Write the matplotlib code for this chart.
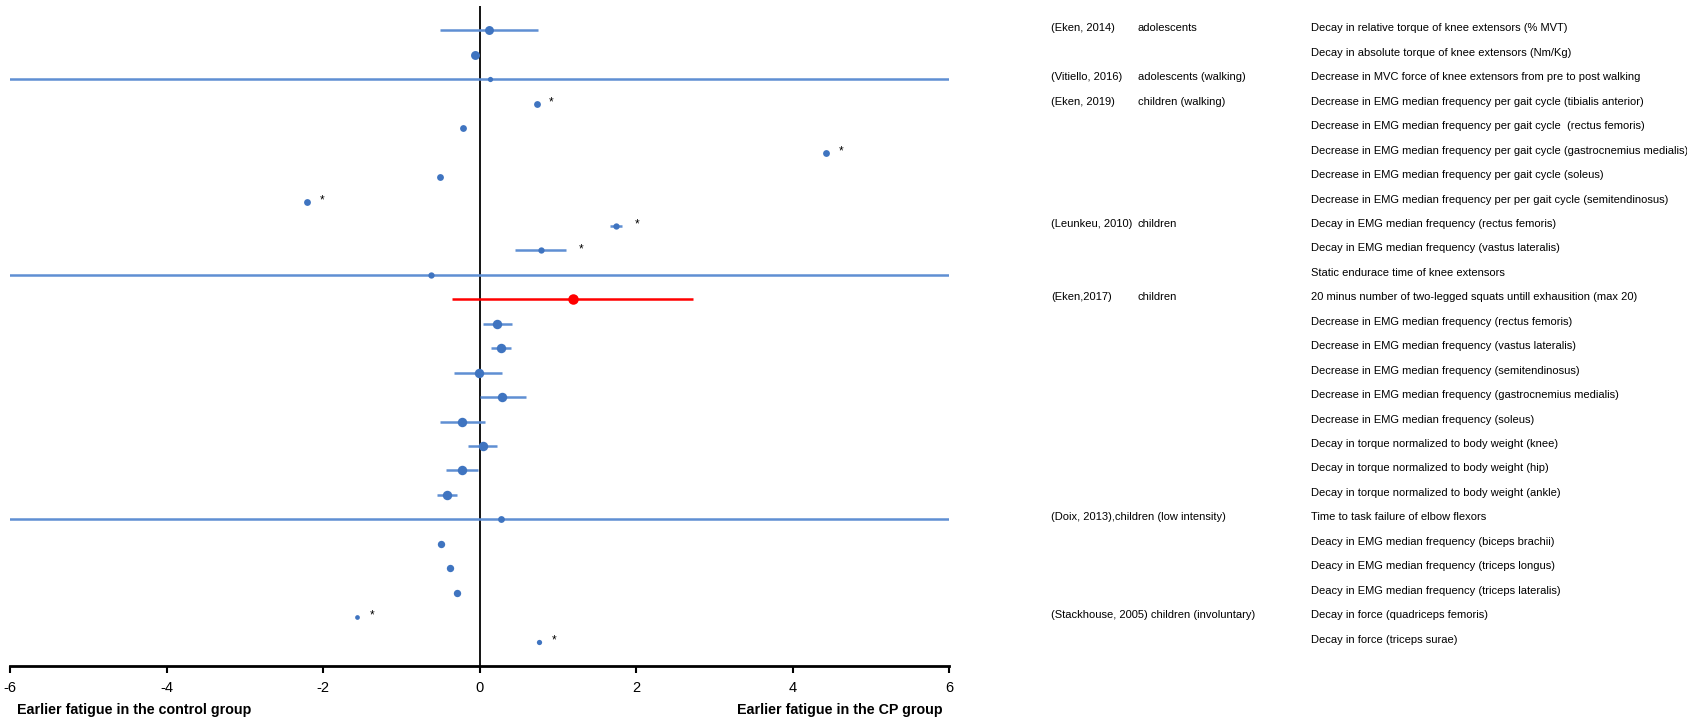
import numpy as np
import matplotlib
matplotlib.use("Agg")
import matplotlib.pyplot as plt
import matplotlib.transforms as mtransforms

plt.rcParams['font.family'] = ['Liberation Sans', 'DejaVu Sans']

# ---------------- data ----------------
studies = ["(Eken, 2014)", "", "(Vitiello, 2016)", "(Eken, 2019)", "", "", "", "",
           "(Leunkeu, 2010)", "", "", "(Eken,2017)", "", "", "", "", "", "", "", "",
           "(Doix, 2013),children (low intensity)", "", "", "",
           "(Stackhouse, 2005) children (involuntary)", ""]
populations = ["adolescents", "", "adolescents (walking)", "children (walking)", "", "", "", "",
               "children", "", "", "children", "", "", "", "", "", "", "", "",
               "", "", "", "", "", ""]
outcomes = [
    "Decay in relative torque of knee extensors (% MVT)",
    "Decay in absolute torque of knee extensors (Nm/Kg)",
    "Decrease in MVC force of knee extensors from pre to post walking",
    "Decrease in EMG median frequency per gait cycle (tibialis anterior)",
    "Decrease in EMG median frequency per gait cycle  (rectus femoris)",
    "Decrease in EMG median frequency per gait cycle (gastrocnemius medialis)",
    "Decrease in EMG median frequency per gait cycle (soleus)",
    "Decrease in EMG median frequency per per gait cycle (semitendinosus)",
    "Decay in EMG median frequency (rectus femoris)",
    "Decay in EMG median frequency (vastus lateralis)",
    "Static endurace time of knee extensors",
    "20 minus number of two-legged squats untill exhausition (max 20)",
    "Decrease in EMG median frequency (rectus femoris)",
    "Decrease in EMG median frequency (vastus lateralis)",
    "Decrease in EMG median frequency (semitendinosus)",
    "Decrease in EMG median frequency (gastrocnemius medialis)",
    "Decrease in EMG median frequency (soleus)",
    "Decay in torque normalized to body weight (knee)",
    "Decay in torque normalized to body weight (hip)",
    "Decay in torque normalized to body weight (ankle)",
    "Time to task failure of elbow flexors",
    "Deacy in EMG median frequency (biceps brachii)",
    "Deacy in EMG median frequency (triceps longus)",
    "Deacy in EMG median frequency (triceps lateralis)",
    "Decay in force (quadriceps femoris)",
    "Decay in force (triceps surae)",
]
effect = [0.12, -0.06, 0.13, 0.73, -0.21, 4.43, -0.51, -2.20, 1.75, 0.79, -0.62, 1.20,
          0.23, 0.28, -0.01, 0.29, -0.22, 0.04, -0.23, -0.42, 0.27, -0.49, -0.38, -0.29,
          -1.56, 0.76]
nan = np.nan
ci_low = [-0.51, nan, -8.0, nan, nan, nan, nan, nan, 1.67, 0.46, -8.0, -0.35,
          0.04, 0.15, -0.32, 0.00, -0.51, -0.15, -0.43, -0.54, -8.0, nan, nan, nan,
          nan, nan]
ci_high = [0.75, nan, 8.0, nan, nan, nan, nan, nan, 1.82, 1.11, 8.0, 2.73,
           0.42, 0.40, 0.29, 0.59, 0.07, 0.22, -0.02, -0.29, 8.0, nan, nan, nan,
           nan, nan]
weight = [8.5, 8.5, 5, 6.5, 6.5, 6.5, 6.5, 6.5, 6, 6, 6, 10,
          9, 9, 9, 9, 9, 9, 9, 9, 6.5, 7, 7, 7, 4.5, 5]
significant = [False, False, False, True, False, True, False, True, True, True, False, False,
               False, False, False, False, False, False, False, False, False, False, False, False,
               True, True]
highlight = [False] * 11 + [True] + [False] * 14
xticks = [-6, -4, -2, 0, 2, 4, 6]
xlabel_left = "Earlier fatigue in the control group"
xlabel_right = "Earlier fatigue in the CP group"

# ---------------- plot ----------------
W, H, DPI = 1687, 720, 100
fig = plt.figure(figsize=(W / DPI, H / DPI), dpi=DPI)
ax = fig.add_axes([10 / W, 1 - 666 / H, (949 - 10) / W, (666 - 6) / H])

n = len(effect)
rows = np.arange(1, n + 1)

blue_m = "#3F74C0"
blue_l = "#5F8FD3"
red = "#FF0000"

for i in range(n):
    col_l = red if highlight[i] else blue_l
    col_m = red if highlight[i] else blue_m
    if not np.isnan(ci_low[i]):
        ax.hlines(rows[i], ci_low[i], ci_high[i], color=col_l, lw=1.8, zorder=2)
    d_pt = weight[i] * 1.05 * 72 / DPI
    ax.scatter([effect[i]], [rows[i]], s=d_pt ** 2, color=col_m, zorder=3, linewidths=0)
    if significant[i]:
        xr = effect[i] if np.isnan(ci_high[i]) else max(effect[i], ci_high[i])
        ax.annotate("*", xy=(xr, rows[i]), xytext=(9, 1), textcoords="offset points",
                    ha="left", va="center", fontsize=8.5, color="black")

ax.axvline(0, color="black", lw=1.3, zorder=1)
ax.set_xlim(-6, 6)
ax.set_ylim(n + 1, 0)
ax.set_xticks(xticks)
ax.set_xticklabels([str(t) for t in xticks])
ax.set_yticks([])
for s in ["left", "top", "right"]:
    ax.spines[s].set_visible(False)
ax.spines["bottom"].set_linewidth(2)
ax.tick_params(axis="x", direction="out", length=5, width=1.5, pad=6, labelsize=10.5)

fig.text(17 / W, 1 - 710 / H, xlabel_left, ha="left", va="center",
         fontsize=10.3, fontweight="bold")
fig.text(943 / W, 1 - 710 / H, xlabel_right, ha="right", va="center",
         fontsize=10.3, fontweight="bold")

trans = mtransforms.blended_transform_factory(fig.transFigure, ax.transData)
for i in range(n):
    y = rows[i] - 0.08
    if studies[i]:
        fig.text(1051 / W, y, studies[i], transform=trans, ha="left", va="center", fontsize=8)
    if populations[i]:
        fig.text(1138 / W, y, populations[i], transform=trans, ha="left", va="center", fontsize=8)
    fig.text(1311 / W, y, outcomes[i], transform=trans, ha="left", va="center", fontsize=8)

fig.savefig("out.png", dpi=DPI)
